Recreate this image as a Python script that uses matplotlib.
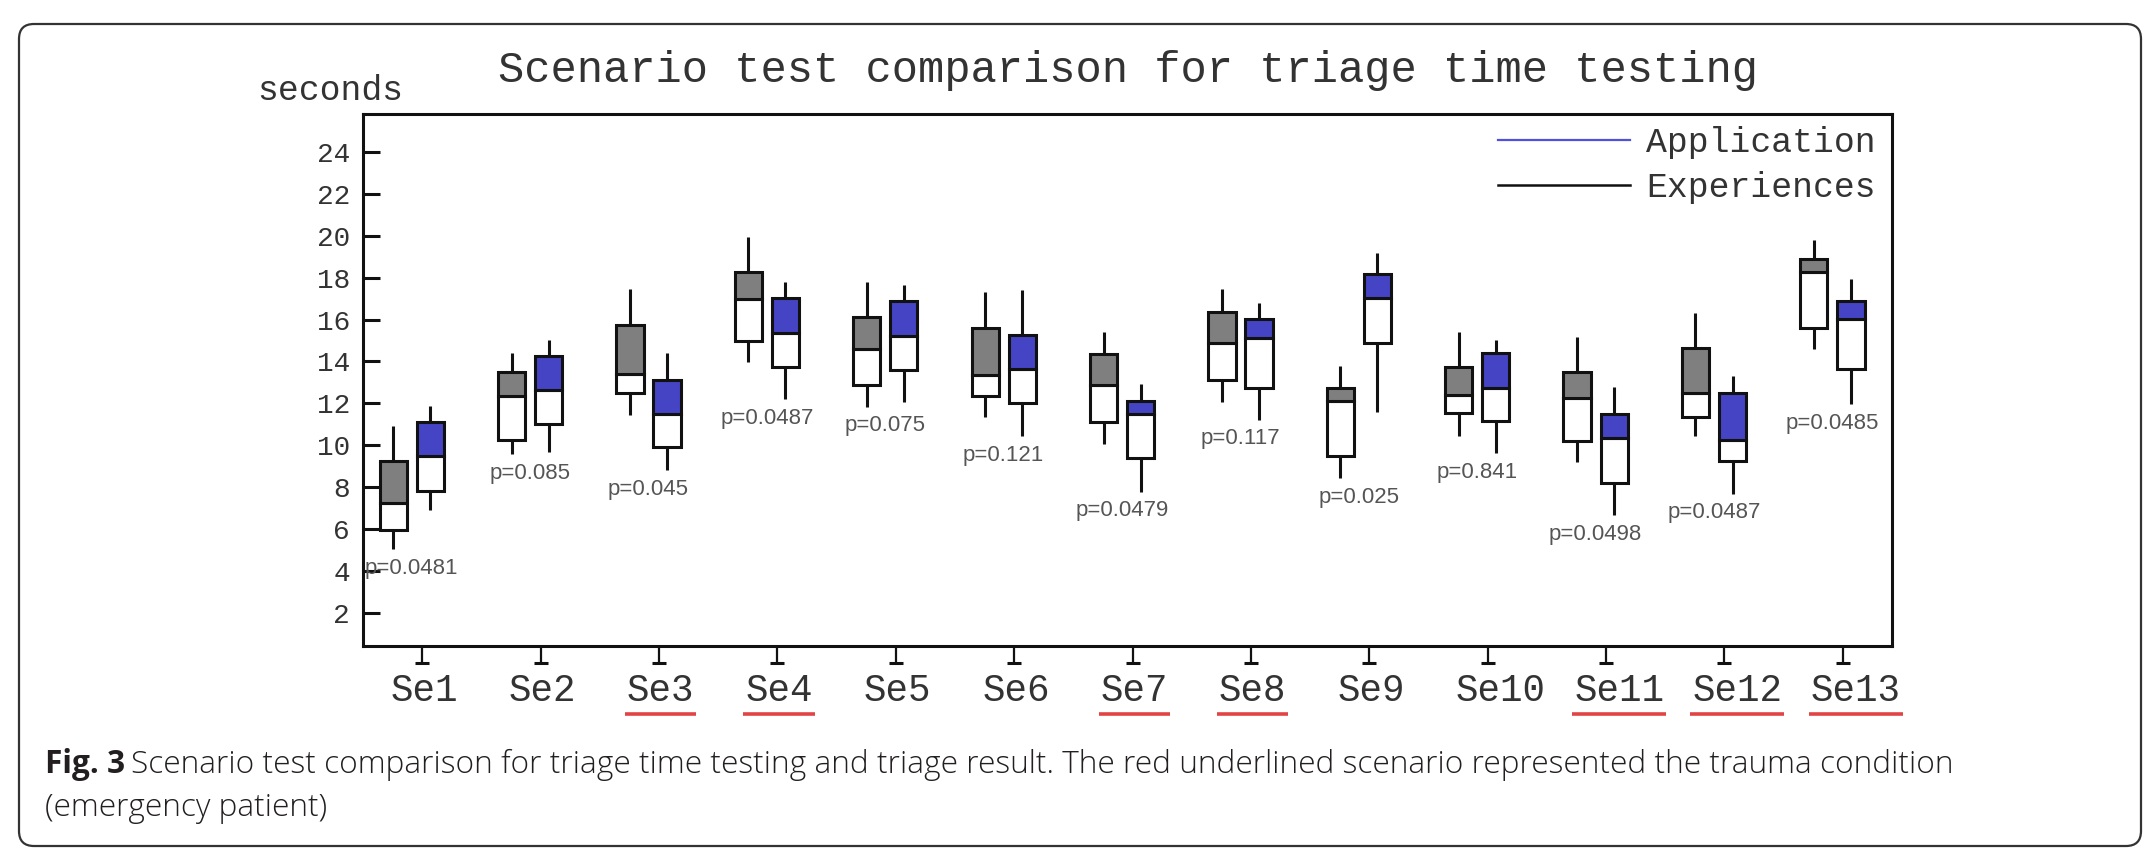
import matplotlib
matplotlib.use("Agg")
import numpy as np
import matplotlib.pyplot as plt
import matplotlib.transforms as mtransforms
from matplotlib.lines import Line2D
from matplotlib.patches import FancyBboxPatch

# Scenario labels, trauma (underlined) scenarios and p-values
scenarios = [f"Se{i}" for i in range(1, 14)]
trauma = ["Se3", "Se4", "Se7", "Se8", "Se11", "Se12", "Se13"]
p_values = ["0.0481", "0.085", "0.045", "0.0487", "0.075", "0.121", "0.0479",
            "0.117", "0.025", "0.841", "0.0498", "0.0487", "0.0485"]

# Experiences (grey boxes): whisker low, Q1, median, Q3, whisker high (seconds)
exp_low  = [5.05, 9.57, 11.45, 13.96, 11.84, 11.34, 10.06, 12.08, 8.42, 10.44, 9.22, 10.44, 14.58]
exp_q1   = [5.96, 10.25, 12.48, 14.98, 12.86, 12.35, 11.13, 13.12, 9.47, 11.53, 10.22, 11.37, 15.60]
exp_med  = [7.26, 12.35, 13.39, 17.00, 14.61, 13.36, 12.86, 14.87, 12.13, 12.40, 12.24, 12.51, 18.29]
exp_q3   = [9.27, 13.48, 15.74, 18.27, 16.14, 15.61, 14.37, 16.38, 12.75, 13.75, 13.51, 14.63, 18.91]
exp_high = [10.92, 14.42, 17.45, 19.93, 17.79, 17.30, 15.41, 17.45, 13.79, 15.42, 15.15, 16.30, 19.80]

# Application (blue boxes)
app_low  = [6.91, 9.70, 8.82, 12.20, 12.08, 10.44, 7.79, 11.21, 11.57, 9.62, 6.67, 7.68, 11.97]
app_q1   = [7.83, 11.00, 9.90, 13.72, 13.61, 12.00, 9.38, 12.72, 14.87, 11.16, 8.21, 9.25, 13.63]
app_med  = [9.49, 12.64, 11.49, 15.38, 15.23, 13.63, 11.48, 15.14, 17.02, 12.75, 10.36, 10.25, 16.01]
app_q3   = [11.13, 14.26, 13.12, 17.05, 16.89, 15.25, 12.11, 16.01, 18.16, 14.39, 11.49, 12.51, 16.89]
app_high = [11.89, 15.03, 14.42, 17.79, 17.67, 17.43, 12.91, 16.81, 19.19, 15.03, 12.80, 13.31, 17.92]

MONO = "Liberation Mono"
SANS = "Liberation Sans"
CAPTION = "Open Sans"
INK = "#111111"
TEXT = "#333333"
GRAY = "#7f7f7f"
BLUE = "#4444c4"
RED = "#e04444"
LW = 2.2
BOX_W = 0.23

plt.rcParams["font.family"] = [MONO, "DejaVu Sans"]

W, H = 2152, 856
fig = plt.figure(figsize=(W / 100, H / 100), dpi=100)
ax = fig.add_axes([363 / W, 1 - 646 / H, (1892 - 363) / W, (646 - 114) / H])

x = np.arange(1, len(scenarios) + 1)
off_exp, off_app = -0.245, 0.068


def draw_boxes(pos, low, q1, med, q3, high, fill):
    """Whiskers + box; the median-to-Q3 half is filled, Q1-to-median is white."""
    ax.vlines(pos, low, q1, color=INK, lw=LW, zorder=2)
    ax.vlines(pos, q3, high, color=INK, lw=LW, zorder=2)
    ax.bar(pos, np.subtract(med, q1), bottom=q1, width=BOX_W, color="white",
           edgecolor=INK, linewidth=LW, zorder=3)
    ax.bar(pos, np.subtract(q3, med), bottom=med, width=BOX_W, color=fill,
           edgecolor=INK, linewidth=LW, zorder=3)


draw_boxes(x + off_exp, exp_low, exp_q1, exp_med, exp_q3, exp_high, GRAY)
draw_boxes(x + off_app, app_low, app_q1, app_med, app_q3, app_high, BLUE)

# p-values under each pair
pair_x = x + (off_exp + off_app) / 2
lowest = np.minimum(exp_low, app_low)
for xi, yi, p in zip(pair_x, lowest, p_values):
    ax.annotate(f"p={p}", (xi, yi), xytext=(0, -13.7), textcoords="offset points",
                ha="center", va="center", fontsize=16, family=SANS, color="#555555")

ax.set_xlim(0.5, 13.415)
ax.set_ylim(0.42, 25.81)
ax.set_yticks(range(2, 25, 2))
ax.set_xticks(x, scenarios)
ax.tick_params(axis="y", direction="in", length=12.2, width=LW, pad=9.4,
               labelsize=20, color=INK, labelcolor=TEXT)
ax.tick_params(axis="x", direction="out", length=12.2, width=1.6, pad=7,
               labelsize=27, color=INK, labelcolor=TEXT)
for s in ax.spines.values():
    s.set_linewidth(LW)
    s.set_color(INK)

# x labels start a fixed distance left of their tick (Se10.. run to the right)
shift = mtransforms.ScaledTranslation(-32 / 100, 0, fig.dpi_scale_trans)
for lbl in ax.get_xticklabels():
    lbl.set_horizontalalignment("left")
    lbl.set_transform(lbl.get_transform() + shift)

# little T-bars at the end of each x tick
tbar = ax.get_xaxis_transform() + mtransforms.ScaledTranslation(0, -12.2 / 72, fig.dpi_scale_trans)
ax.plot(x, np.zeros(len(x)), transform=tbar, ls="none", marker="_", ms=10,
        mew=LW, color=INK, clip_on=False)

handles = [Line2D([], [], color="#5050dc", lw=1.6), Line2D([], [], color=INK, lw=1.8)]
ax.legend(handles, ["Application", "Experiences"], loc="upper right",
          bbox_to_anchor=(0.9895, 0.978), frameon=False, fontsize=25,
          handlelength=3.8, handletextpad=0.46, labelspacing=0.36,
          borderpad=0, borderaxespad=0, labelcolor=TEXT)

ax.set_title("Scenario test comparison for triage time testing",
             fontsize=31.5, color=TEXT, pad=23)
fig.text(257 / W, 1 - 100 / H, "seconds", fontsize=25, color=TEXT,
         ha="left", va="baseline")

# caption
cap_color = "#231f20"
cap_size = 22.8
bold = fig.text(45 / W, 1 - 773 / H, "Fig. 3", family=CAPTION, weight="bold",
                fontsize=cap_size, color=cap_color, va="baseline")
ax.annotate("Scenario test comparison for triage time testing and triage result. "
            "The red underlined scenario represented the trauma condition",
            xy=(1, 0), xycoords=bold, xytext=(4, 0), textcoords="offset points",
            va="bottom", ha="left", family=CAPTION, weight="light",
            fontsize=cap_size, color=cap_color)
fig.text(45 / W, 1 - 816 / H, "(emergency patient)", family=CAPTION, weight="light",
         fontsize=cap_size, color=cap_color, va="baseline")

# rounded frame round the whole figure
frame = FancyBboxPatch((0.19, 0.10), 21.22, 8.22, boxstyle="round,pad=0,rounding_size=0.15",
                       transform=fig.dpi_scale_trans, fill=False,
                       edgecolor="#333333", lw=1.6)
fig.add_artist(frame)

# red underline under the trauma scenarios
fig.canvas.draw()
renderer = fig.canvas.get_renderer()
for lbl in ax.get_xticklabels():
    if lbl.get_text() in trauma:
        bb = lbl.get_window_extent(renderer)
        fig.add_artist(Line2D([bb.x0 - 2, bb.x1 + 2], [H - 714, H - 714],
                              transform=mtransforms.IdentityTransform(),
                              color=RED, lw=2.6, solid_capstyle="butt"))

fig.savefig("out.png", dpi=100)
